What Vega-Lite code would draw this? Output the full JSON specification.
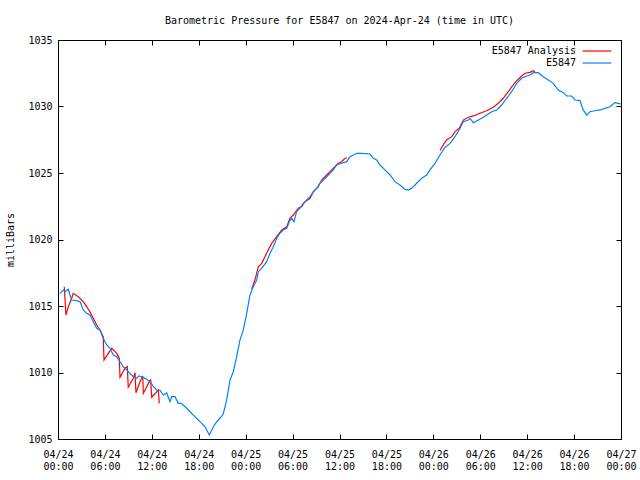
{
  "$schema": "https://vega.github.io/schema/vega-lite/v6.json",
  "width": 563,
  "height": 399,
  "autosize": {"type": "none"},
  "padding": {"left": 58, "top": 40, "right": 19, "bottom": 41},
  "background": "white",
  "title": {
    "text": "Barometric Pressure for E5847 on 2024-Apr-24 (time in UTC)",
    "font": "DejaVu Sans Mono",
    "fontSize": 10,
    "fontWeight": "normal",
    "color": "black",
    "anchor": "middle",
    "frame": "group",
    "offset": 9
  },
  "config": {
    "view": {"stroke": "black", "strokeWidth": 1},
    "axis": {
      "grid": true,
      "gridColor": "#000000",
      "gridOpacity": 1,
      "gridWidth": 1,
      "domain": false,
      "ticks": false,
      "tickSize": 0,
      "labelColor": "black",
      "labelFont": "DejaVu Sans Mono",
      "labelFontSize": 10,
      "titleFont": "DejaVu Sans Mono",
      "titleFontSize": 10,
      "titleFontWeight": "normal",
      "titleColor": "black"
    },
    "legend": {
      "orient": "none",
      "legendX": 532,
      "legendY": 4,
      "padding": 0,
      "symbolType": "M-2.4,0H2.4",
      "symbolSize": 144,
      "symbolStrokeWidth": 1.2,
      "labelAlign": "right",
      "labelOffset": -28,
      "labelFont": "DejaVu Sans Mono",
      "labelFontSize": 10,
      "labelColor": "black",
      "rowPadding": 0
    }
  },
  "data": {
    "values": [
      {"s": "E5847 Analysis", "g": 1, "t": "2024-04-24T00:48:00Z", "p": 1016.45},
      {"s": "E5847 Analysis", "g": 1, "t": "2024-04-24T01:01:00Z", "p": 1014.32},
      {"s": "E5847 Analysis", "g": 1, "t": "2024-04-24T01:19:00Z", "p": 1014.95},
      {"s": "E5847 Analysis", "g": 1, "t": "2024-04-24T01:45:00Z", "p": 1015.58},
      {"s": "E5847 Analysis", "g": 1, "t": "2024-04-24T01:57:00Z", "p": 1015.95},
      {"s": "E5847 Analysis", "g": 1, "t": "2024-04-24T02:36:00Z", "p": 1015.70},
      {"s": "E5847 Analysis", "g": 1, "t": "2024-04-24T03:14:00Z", "p": 1015.32},
      {"s": "E5847 Analysis", "g": 1, "t": "2024-04-24T03:40:00Z", "p": 1014.95},
      {"s": "E5847 Analysis", "g": 1, "t": "2024-04-24T04:05:00Z", "p": 1014.57},
      {"s": "E5847 Analysis", "g": 1, "t": "2024-04-24T04:31:00Z", "p": 1014.08},
      {"s": "E5847 Analysis", "g": 1, "t": "2024-04-24T04:57:00Z", "p": 1013.57},
      {"s": "E5847 Analysis", "g": 1, "t": "2024-04-24T05:22:00Z", "p": 1013.20},
      {"s": "E5847 Analysis", "g": 1, "t": "2024-04-24T05:47:00Z", "p": 1012.69},
      {"s": "E5847 Analysis", "g": 1, "t": "2024-04-24T05:53:00Z", "p": 1010.94},
      {"s": "E5847 Analysis", "g": 1, "t": "2024-04-24T06:26:00Z", "p": 1011.44},
      {"s": "E5847 Analysis", "g": 1, "t": "2024-04-24T06:52:00Z", "p": 1011.82},
      {"s": "E5847 Analysis", "g": 1, "t": "2024-04-24T07:30:00Z", "p": 1011.44},
      {"s": "E5847 Analysis", "g": 1, "t": "2024-04-24T07:50:00Z", "p": 1011.07},
      {"s": "E5847 Analysis", "g": 1, "t": "2024-04-24T07:56:00Z", "p": 1009.64},
      {"s": "E5847 Analysis", "g": 1, "t": "2024-04-24T08:34:00Z", "p": 1010.32},
      {"s": "E5847 Analysis", "g": 1, "t": "2024-04-24T08:52:00Z", "p": 1010.44},
      {"s": "E5847 Analysis", "g": 1, "t": "2024-04-24T08:59:00Z", "p": 1008.89},
      {"s": "E5847 Analysis", "g": 1, "t": "2024-04-24T09:38:00Z", "p": 1009.56},
      {"s": "E5847 Analysis", "g": 1, "t": "2024-04-24T09:51:00Z", "p": 1009.98},
      {"s": "E5847 Analysis", "g": 1, "t": "2024-04-24T09:58:00Z", "p": 1008.48},
      {"s": "E5847 Analysis", "g": 1, "t": "2024-04-24T10:29:00Z", "p": 1009.31},
      {"s": "E5847 Analysis", "g": 1, "t": "2024-04-24T10:50:00Z", "p": 1009.74},
      {"s": "E5847 Analysis", "g": 1, "t": "2024-04-24T10:55:00Z", "p": 1008.44},
      {"s": "E5847 Analysis", "g": 1, "t": "2024-04-24T11:41:00Z", "p": 1009.31},
      {"s": "E5847 Analysis", "g": 1, "t": "2024-04-24T11:51:00Z", "p": 1009.44},
      {"s": "E5847 Analysis", "g": 1, "t": "2024-04-24T11:59:00Z", "p": 1008.14},
      {"s": "E5847 Analysis", "g": 1, "t": "2024-04-24T12:50:00Z", "p": 1008.68},
      {"s": "E5847 Analysis", "g": 1, "t": "2024-04-24T12:57:00Z", "p": 1007.68},
      {"s": "E5847 Analysis", "g": 2, "t": "2024-04-25T00:46:00Z", "p": 1016.28},
      {"s": "E5847 Analysis", "g": 2, "t": "2024-04-25T01:11:00Z", "p": 1016.95},
      {"s": "E5847 Analysis", "g": 2, "t": "2024-04-25T01:37:00Z", "p": 1017.95},
      {"s": "E5847 Analysis", "g": 2, "t": "2024-04-25T02:03:00Z", "p": 1018.21},
      {"s": "E5847 Analysis", "g": 2, "t": "2024-04-25T02:28:00Z", "p": 1018.71},
      {"s": "E5847 Analysis", "g": 2, "t": "2024-04-25T02:53:00Z", "p": 1019.21},
      {"s": "E5847 Analysis", "g": 2, "t": "2024-04-25T03:20:00Z", "p": 1019.71},
      {"s": "E5847 Analysis", "g": 2, "t": "2024-04-25T03:58:00Z", "p": 1020.21},
      {"s": "E5847 Analysis", "g": 2, "t": "2024-04-25T04:37:00Z", "p": 1020.71},
      {"s": "E5847 Analysis", "g": 2, "t": "2024-04-25T05:15:00Z", "p": 1020.96},
      {"s": "E5847 Analysis", "g": 2, "t": "2024-04-25T05:40:00Z", "p": 1021.59},
      {"s": "E5847 Analysis", "g": 2, "t": "2024-04-25T06:05:00Z", "p": 1021.84},
      {"s": "E5847 Analysis", "g": 2, "t": "2024-04-25T06:44:00Z", "p": 1022.35},
      {"s": "E5847 Analysis", "g": 2, "t": "2024-04-25T07:10:00Z", "p": 1022.47},
      {"s": "E5847 Analysis", "g": 2, "t": "2024-04-25T07:35:00Z", "p": 1022.84},
      {"s": "E5847 Analysis", "g": 2, "t": "2024-04-25T08:14:00Z", "p": 1023.10},
      {"s": "E5847 Analysis", "g": 2, "t": "2024-04-25T08:39:00Z", "p": 1023.59},
      {"s": "E5847 Analysis", "g": 2, "t": "2024-04-25T09:17:00Z", "p": 1023.97},
      {"s": "E5847 Analysis", "g": 2, "t": "2024-04-25T09:43:00Z", "p": 1024.47},
      {"s": "E5847 Analysis", "g": 2, "t": "2024-04-25T10:22:00Z", "p": 1024.85},
      {"s": "E5847 Analysis", "g": 2, "t": "2024-04-25T10:47:00Z", "p": 1025.10},
      {"s": "E5847 Analysis", "g": 2, "t": "2024-04-25T11:25:00Z", "p": 1025.47},
      {"s": "E5847 Analysis", "g": 2, "t": "2024-04-25T11:50:00Z", "p": 1025.73},
      {"s": "E5847 Analysis", "g": 2, "t": "2024-04-25T12:17:00Z", "p": 1025.85},
      {"s": "E5847 Analysis", "g": 2, "t": "2024-04-25T12:42:00Z", "p": 1026.11},
      {"s": "E5847 Analysis", "g": 2, "t": "2024-04-25T12:58:00Z", "p": 1026.13},
      {"s": "E5847 Analysis", "g": 3, "t": "2024-04-26T00:51:00Z", "p": 1026.69},
      {"s": "E5847 Analysis", "g": 3, "t": "2024-04-26T01:16:00Z", "p": 1027.11},
      {"s": "E5847 Analysis", "g": 3, "t": "2024-04-26T01:42:00Z", "p": 1027.48},
      {"s": "E5847 Analysis", "g": 3, "t": "2024-04-26T02:21:00Z", "p": 1027.73},
      {"s": "E5847 Analysis", "g": 3, "t": "2024-04-26T02:46:00Z", "p": 1028.11},
      {"s": "E5847 Analysis", "g": 3, "t": "2024-04-26T03:19:00Z", "p": 1028.36},
      {"s": "E5847 Analysis", "g": 3, "t": "2024-04-26T03:50:00Z", "p": 1028.98},
      {"s": "E5847 Analysis", "g": 3, "t": "2024-04-26T04:28:00Z", "p": 1029.19},
      {"s": "E5847 Analysis", "g": 3, "t": "2024-04-26T05:07:00Z", "p": 1029.29},
      {"s": "E5847 Analysis", "g": 3, "t": "2024-04-26T05:58:00Z", "p": 1029.49},
      {"s": "E5847 Analysis", "g": 3, "t": "2024-04-26T06:49:00Z", "p": 1029.68},
      {"s": "E5847 Analysis", "g": 3, "t": "2024-04-26T07:40:00Z", "p": 1029.94},
      {"s": "E5847 Analysis", "g": 3, "t": "2024-04-26T08:18:00Z", "p": 1030.24},
      {"s": "E5847 Analysis", "g": 3, "t": "2024-04-26T08:56:00Z", "p": 1030.62},
      {"s": "E5847 Analysis", "g": 3, "t": "2024-04-26T09:35:00Z", "p": 1031.11},
      {"s": "E5847 Analysis", "g": 3, "t": "2024-04-26T10:13:00Z", "p": 1031.62},
      {"s": "E5847 Analysis", "g": 3, "t": "2024-04-26T10:40:00Z", "p": 1031.94},
      {"s": "E5847 Analysis", "g": 3, "t": "2024-04-26T11:18:00Z", "p": 1032.29},
      {"s": "E5847 Analysis", "g": 3, "t": "2024-04-26T11:43:00Z", "p": 1032.50},
      {"s": "E5847 Analysis", "g": 3, "t": "2024-04-26T12:22:00Z", "p": 1032.57},
      {"s": "E5847 Analysis", "g": 3, "t": "2024-04-26T12:47:00Z", "p": 1032.69},
      {"s": "E5847 Analysis", "g": 3, "t": "2024-04-26T13:00:00Z", "p": 1032.62},
      {"s": "E5847", "g": 0, "t": "2024-04-24T00:15:00Z", "p": 1015.95},
      {"s": "E5847", "g": 0, "t": "2024-04-24T00:41:00Z", "p": 1016.20},
      {"s": "E5847", "g": 0, "t": "2024-04-24T00:54:00Z", "p": 1016.08},
      {"s": "E5847", "g": 0, "t": "2024-04-24T01:19:00Z", "p": 1016.26},
      {"s": "E5847", "g": 0, "t": "2024-04-24T01:32:00Z", "p": 1015.83},
      {"s": "E5847", "g": 0, "t": "2024-04-24T01:45:00Z", "p": 1015.45},
      {"s": "E5847", "g": 0, "t": "2024-04-24T02:23:00Z", "p": 1015.40},
      {"s": "E5847", "g": 0, "t": "2024-04-24T02:49:00Z", "p": 1015.32},
      {"s": "E5847", "g": 0, "t": "2024-04-24T03:14:00Z", "p": 1014.70},
      {"s": "E5847", "g": 0, "t": "2024-04-24T03:40:00Z", "p": 1014.45},
      {"s": "E5847", "g": 0, "t": "2024-04-24T04:05:00Z", "p": 1014.32},
      {"s": "E5847", "g": 0, "t": "2024-04-24T04:31:00Z", "p": 1013.82},
      {"s": "E5847", "g": 0, "t": "2024-04-24T04:57:00Z", "p": 1013.32},
      {"s": "E5847", "g": 0, "t": "2024-04-24T05:22:00Z", "p": 1013.20},
      {"s": "E5847", "g": 0, "t": "2024-04-24T05:47:00Z", "p": 1012.57},
      {"s": "E5847", "g": 0, "t": "2024-04-24T06:14:00Z", "p": 1012.07},
      {"s": "E5847", "g": 0, "t": "2024-04-24T06:39:00Z", "p": 1011.82},
      {"s": "E5847", "g": 0, "t": "2024-04-24T07:04:00Z", "p": 1011.32},
      {"s": "E5847", "g": 0, "t": "2024-04-24T07:30:00Z", "p": 1011.19},
      {"s": "E5847", "g": 0, "t": "2024-04-24T07:56:00Z", "p": 1010.81},
      {"s": "E5847", "g": 0, "t": "2024-04-24T08:21:00Z", "p": 1010.44},
      {"s": "E5847", "g": 0, "t": "2024-04-24T08:47:00Z", "p": 1010.19},
      {"s": "E5847", "g": 0, "t": "2024-04-24T09:12:00Z", "p": 1009.94},
      {"s": "E5847", "g": 0, "t": "2024-04-24T09:38:00Z", "p": 1009.68},
      {"s": "E5847", "g": 0, "t": "2024-04-24T10:04:00Z", "p": 1009.56},
      {"s": "E5847", "g": 0, "t": "2024-04-24T10:21:00Z", "p": 1009.74},
      {"s": "E5847", "g": 0, "t": "2024-04-24T10:42:00Z", "p": 1009.68},
      {"s": "E5847", "g": 0, "t": "2024-04-24T11:08:00Z", "p": 1009.56},
      {"s": "E5847", "g": 0, "t": "2024-04-24T11:46:00Z", "p": 1009.31},
      {"s": "E5847", "g": 0, "t": "2024-04-24T12:11:00Z", "p": 1008.98},
      {"s": "E5847", "g": 0, "t": "2024-04-24T12:37:00Z", "p": 1008.68},
      {"s": "E5847", "g": 0, "t": "2024-04-24T13:02:00Z", "p": 1008.68},
      {"s": "E5847", "g": 0, "t": "2024-04-24T13:28:00Z", "p": 1008.31},
      {"s": "E5847", "g": 0, "t": "2024-04-24T13:54:00Z", "p": 1008.46},
      {"s": "E5847", "g": 0, "t": "2024-04-24T14:19:00Z", "p": 1007.80},
      {"s": "E5847", "g": 0, "t": "2024-04-24T14:32:00Z", "p": 1008.18},
      {"s": "E5847", "g": 0, "t": "2024-04-24T14:58:00Z", "p": 1008.18},
      {"s": "E5847", "g": 0, "t": "2024-04-24T15:23:00Z", "p": 1007.68},
      {"s": "E5847", "g": 0, "t": "2024-04-24T15:44:00Z", "p": 1007.68},
      {"s": "E5847", "g": 0, "t": "2024-04-24T16:01:00Z", "p": 1007.56},
      {"s": "E5847", "g": 0, "t": "2024-04-24T16:28:00Z", "p": 1007.31},
      {"s": "E5847", "g": 0, "t": "2024-04-24T16:53:00Z", "p": 1007.05},
      {"s": "E5847", "g": 0, "t": "2024-04-24T17:18:00Z", "p": 1006.80},
      {"s": "E5847", "g": 0, "t": "2024-04-24T17:56:00Z", "p": 1006.43},
      {"s": "E5847", "g": 0, "t": "2024-04-24T18:23:00Z", "p": 1006.18},
      {"s": "E5847", "g": 0, "t": "2024-04-24T18:48:00Z", "p": 1005.92},
      {"s": "E5847", "g": 0, "t": "2024-04-24T19:21:00Z", "p": 1005.30},
      {"s": "E5847", "g": 0, "t": "2024-04-24T19:52:00Z", "p": 1005.92},
      {"s": "E5847", "g": 0, "t": "2024-04-24T20:18:00Z", "p": 1006.30},
      {"s": "E5847", "g": 0, "t": "2024-04-24T20:43:00Z", "p": 1006.56},
      {"s": "E5847", "g": 0, "t": "2024-04-24T21:08:00Z", "p": 1006.88},
      {"s": "E5847", "g": 0, "t": "2024-04-24T21:34:00Z", "p": 1007.93},
      {"s": "E5847", "g": 0, "t": "2024-04-24T22:00:00Z", "p": 1009.44},
      {"s": "E5847", "g": 0, "t": "2024-04-24T22:25:00Z", "p": 1010.06},
      {"s": "E5847", "g": 0, "t": "2024-04-24T22:51:00Z", "p": 1011.19},
      {"s": "E5847", "g": 0, "t": "2024-04-24T23:16:00Z", "p": 1012.44},
      {"s": "E5847", "g": 0, "t": "2024-04-24T23:42:00Z", "p": 1013.20},
      {"s": "E5847", "g": 0, "t": "2024-04-25T00:08:00Z", "p": 1014.45},
      {"s": "E5847", "g": 0, "t": "2024-04-25T00:33:00Z", "p": 1015.83},
      {"s": "E5847", "g": 0, "t": "2024-04-25T00:58:00Z", "p": 1016.45},
      {"s": "E5847", "g": 0, "t": "2024-04-25T01:25:00Z", "p": 1016.95},
      {"s": "E5847", "g": 0, "t": "2024-04-25T01:37:00Z", "p": 1017.58},
      {"s": "E5847", "g": 0, "t": "2024-04-25T02:03:00Z", "p": 1017.83},
      {"s": "E5847", "g": 0, "t": "2024-04-25T02:41:00Z", "p": 1018.33},
      {"s": "E5847", "g": 0, "t": "2024-04-25T03:07:00Z", "p": 1018.96},
      {"s": "E5847", "g": 0, "t": "2024-04-25T03:32:00Z", "p": 1019.46},
      {"s": "E5847", "g": 0, "t": "2024-04-25T03:58:00Z", "p": 1020.09},
      {"s": "E5847", "g": 0, "t": "2024-04-25T04:23:00Z", "p": 1020.47},
      {"s": "E5847", "g": 0, "t": "2024-04-25T04:49:00Z", "p": 1020.71},
      {"s": "E5847", "g": 0, "t": "2024-04-25T05:15:00Z", "p": 1020.84},
      {"s": "E5847", "g": 0, "t": "2024-04-25T05:35:00Z", "p": 1021.34},
      {"s": "E5847", "g": 0, "t": "2024-04-25T05:53:00Z", "p": 1021.59},
      {"s": "E5847", "g": 0, "t": "2024-04-25T06:11:00Z", "p": 1021.34},
      {"s": "E5847", "g": 0, "t": "2024-04-25T06:31:00Z", "p": 1022.09},
      {"s": "E5847", "g": 0, "t": "2024-04-25T06:57:00Z", "p": 1022.35},
      {"s": "E5847", "g": 0, "t": "2024-04-25T07:22:00Z", "p": 1022.72},
      {"s": "E5847", "g": 0, "t": "2024-04-25T07:48:00Z", "p": 1022.97},
      {"s": "E5847", "g": 0, "t": "2024-04-25T08:14:00Z", "p": 1023.22},
      {"s": "E5847", "g": 0, "t": "2024-04-25T08:39:00Z", "p": 1023.59},
      {"s": "E5847", "g": 0, "t": "2024-04-25T09:05:00Z", "p": 1023.85},
      {"s": "E5847", "g": 0, "t": "2024-04-25T09:30:00Z", "p": 1024.23},
      {"s": "E5847", "g": 0, "t": "2024-04-25T09:56:00Z", "p": 1024.47},
      {"s": "E5847", "g": 0, "t": "2024-04-25T10:22:00Z", "p": 1024.72},
      {"s": "E5847", "g": 0, "t": "2024-04-25T10:47:00Z", "p": 1024.98},
      {"s": "E5847", "g": 0, "t": "2024-04-25T11:12:00Z", "p": 1025.23},
      {"s": "E5847", "g": 0, "t": "2024-04-25T11:38:00Z", "p": 1025.60},
      {"s": "E5847", "g": 0, "t": "2024-04-25T12:17:00Z", "p": 1025.73},
      {"s": "E5847", "g": 0, "t": "2024-04-25T12:55:00Z", "p": 1025.85},
      {"s": "E5847", "g": 0, "t": "2024-04-25T13:20:00Z", "p": 1026.23},
      {"s": "E5847", "g": 0, "t": "2024-04-25T14:12:00Z", "p": 1026.48},
      {"s": "E5847", "g": 0, "t": "2024-04-25T14:50:00Z", "p": 1026.48},
      {"s": "E5847", "g": 0, "t": "2024-04-25T15:54:00Z", "p": 1026.43},
      {"s": "E5847", "g": 0, "t": "2024-04-25T16:19:00Z", "p": 1026.11},
      {"s": "E5847", "g": 0, "t": "2024-04-25T16:45:00Z", "p": 1025.98},
      {"s": "E5847", "g": 0, "t": "2024-04-25T17:11:00Z", "p": 1025.60},
      {"s": "E5847", "g": 0, "t": "2024-04-25T17:49:00Z", "p": 1025.23},
      {"s": "E5847", "g": 0, "t": "2024-04-25T18:28:00Z", "p": 1024.85},
      {"s": "E5847", "g": 0, "t": "2024-04-25T19:05:00Z", "p": 1024.35},
      {"s": "E5847", "g": 0, "t": "2024-04-25T19:44:00Z", "p": 1024.10},
      {"s": "E5847", "g": 0, "t": "2024-04-25T20:22:00Z", "p": 1023.77},
      {"s": "E5847", "g": 0, "t": "2024-04-25T20:48:00Z", "p": 1023.72},
      {"s": "E5847", "g": 0, "t": "2024-04-25T21:14:00Z", "p": 1023.85},
      {"s": "E5847", "g": 0, "t": "2024-04-25T21:52:00Z", "p": 1024.23},
      {"s": "E5847", "g": 0, "t": "2024-04-25T22:31:00Z", "p": 1024.60},
      {"s": "E5847", "g": 0, "t": "2024-04-25T23:09:00Z", "p": 1024.85},
      {"s": "E5847", "g": 0, "t": "2024-04-25T23:34:00Z", "p": 1025.23},
      {"s": "E5847", "g": 0, "t": "2024-04-26T00:13:00Z", "p": 1025.73},
      {"s": "E5847", "g": 0, "t": "2024-04-26T00:51:00Z", "p": 1026.35},
      {"s": "E5847", "g": 0, "t": "2024-04-26T01:29:00Z", "p": 1026.92},
      {"s": "E5847", "g": 0, "t": "2024-04-26T02:08:00Z", "p": 1027.23},
      {"s": "E5847", "g": 0, "t": "2024-04-26T02:46:00Z", "p": 1027.73},
      {"s": "E5847", "g": 0, "t": "2024-04-26T03:25:00Z", "p": 1028.36},
      {"s": "E5847", "g": 0, "t": "2024-04-26T03:50:00Z", "p": 1028.86},
      {"s": "E5847", "g": 0, "t": "2024-04-26T04:28:00Z", "p": 1028.98},
      {"s": "E5847", "g": 0, "t": "2024-04-26T04:41:00Z", "p": 1029.11},
      {"s": "E5847", "g": 0, "t": "2024-04-26T05:07:00Z", "p": 1028.78},
      {"s": "E5847", "g": 0, "t": "2024-04-26T05:45:00Z", "p": 1028.98},
      {"s": "E5847", "g": 0, "t": "2024-04-26T06:11:00Z", "p": 1029.11},
      {"s": "E5847", "g": 0, "t": "2024-04-26T06:49:00Z", "p": 1029.36},
      {"s": "E5847", "g": 0, "t": "2024-04-26T07:28:00Z", "p": 1029.61},
      {"s": "E5847", "g": 0, "t": "2024-04-26T08:06:00Z", "p": 1029.74},
      {"s": "E5847", "g": 0, "t": "2024-04-26T08:44:00Z", "p": 1030.11},
      {"s": "E5847", "g": 0, "t": "2024-04-26T09:23:00Z", "p": 1030.62},
      {"s": "E5847", "g": 0, "t": "2024-04-26T10:01:00Z", "p": 1031.11},
      {"s": "E5847", "g": 0, "t": "2024-04-26T10:40:00Z", "p": 1031.74},
      {"s": "E5847", "g": 0, "t": "2024-04-26T11:18:00Z", "p": 1032.12},
      {"s": "E5847", "g": 0, "t": "2024-04-26T11:56:00Z", "p": 1032.29},
      {"s": "E5847", "g": 0, "t": "2024-04-26T12:22:00Z", "p": 1032.37},
      {"s": "E5847", "g": 0, "t": "2024-04-26T12:47:00Z", "p": 1032.54},
      {"s": "E5847", "g": 0, "t": "2024-04-26T13:25:00Z", "p": 1032.54},
      {"s": "E5847", "g": 0, "t": "2024-04-26T14:04:00Z", "p": 1032.24},
      {"s": "E5847", "g": 0, "t": "2024-04-26T14:42:00Z", "p": 1031.99},
      {"s": "E5847", "g": 0, "t": "2024-04-26T15:20:00Z", "p": 1031.74},
      {"s": "E5847", "g": 0, "t": "2024-04-26T15:59:00Z", "p": 1031.24},
      {"s": "E5847", "g": 0, "t": "2024-04-26T16:37:00Z", "p": 1031.04},
      {"s": "E5847", "g": 0, "t": "2024-04-26T17:03:00Z", "p": 1030.79},
      {"s": "E5847", "g": 0, "t": "2024-04-26T17:41:00Z", "p": 1030.79},
      {"s": "E5847", "g": 0, "t": "2024-04-26T18:07:00Z", "p": 1030.49},
      {"s": "E5847", "g": 0, "t": "2024-04-26T18:45:00Z", "p": 1030.44},
      {"s": "E5847", "g": 0, "t": "2024-04-26T19:10:00Z", "p": 1029.74},
      {"s": "E5847", "g": 0, "t": "2024-04-26T19:37:00Z", "p": 1029.36},
      {"s": "E5847", "g": 0, "t": "2024-04-26T20:02:00Z", "p": 1029.61},
      {"s": "E5847", "g": 0, "t": "2024-04-26T20:40:00Z", "p": 1029.68},
      {"s": "E5847", "g": 0, "t": "2024-04-26T21:19:00Z", "p": 1029.74},
      {"s": "E5847", "g": 0, "t": "2024-04-26T21:57:00Z", "p": 1029.86},
      {"s": "E5847", "g": 0, "t": "2024-04-26T22:35:00Z", "p": 1029.98},
      {"s": "E5847", "g": 0, "t": "2024-04-26T23:14:00Z", "p": 1030.29},
      {"s": "E5847", "g": 0, "t": "2024-04-26T23:39:00Z", "p": 1030.24},
      {"s": "E5847", "g": 0, "t": "2024-04-26T23:58:00Z", "p": 1030.19}
    ]
  },
  "layer": [
    {
      "transform": [{"filter": "datum.s == 'E5847 Analysis'"}],
      "mark": {"type": "line", "strokeWidth": 1.2},
      "encoding": {
        "x": {
          "field": "t", "type": "temporal",
          "scale": {"type": "utc", "nice": false, "domain": [1713916800000, 1714176000000]},
          "axis": {
            "orient": "bottom",
            "title": null,
            "gridDash": [5, 389],
            "values": [1713916800000, 1713927600000, 1713938400000, 1713949200000, 1713960000000, 1713970800000, 1713981600000, 1713992400000, 1714003200000, 1714014000000, 1714024800000, 1714035600000, 1714046400000, 1714057200000, 1714068000000, 1714078800000, 1714089600000, 1714100400000, 1714111200000, 1714122000000, 1714132800000, 1714143600000, 1714154400000, 1714165200000, 1714176000000],
            "labelExpr": "utchours(datum.value) % 6 == 0 ? [utcFormat(datum.value, '%m/%d'), utcFormat(datum.value, '%H:%M')] : ''",
            "labelOverlap": false,
            "labelFlush": false,
            "labelBaseline": "top",
            "labelLineHeight": 12,
            "labelPadding": 10
          }
        },
        "y": {
          "field": "p", "type": "quantitative",
          "scale": {"domain": [1005, 1035], "nice": false, "zero": false},
          "axis": {
            "orient": "left",
            "title": "milliBars",
            "format": "d",
            "gridDash": [5, 553],
            "values": [1005, 1010, 1015, 1020, 1025, 1030, 1035],
            "labelPadding": 6,
            "titlePadding": 12
          }
        },
        "color": {"field": "s", "type": "nominal", "title": null, "scale": {"domain": ["E5847 Analysis", "E5847"], "range": ["#ff0000", "#0080ff"]}},
        "detail": {"field": "g"}
      }
    },
    {
      "transform": [{"filter": "datum.s == 'E5847'"}],
      "mark": {"type": "line", "strokeWidth": 1.2},
      "encoding": {
        "x": {"field": "t", "type": "temporal"},
        "y": {"field": "p", "type": "quantitative"},
        "color": {"field": "s", "type": "nominal"},
        "detail": {"field": "g"}
      }
    }
  ]
}
